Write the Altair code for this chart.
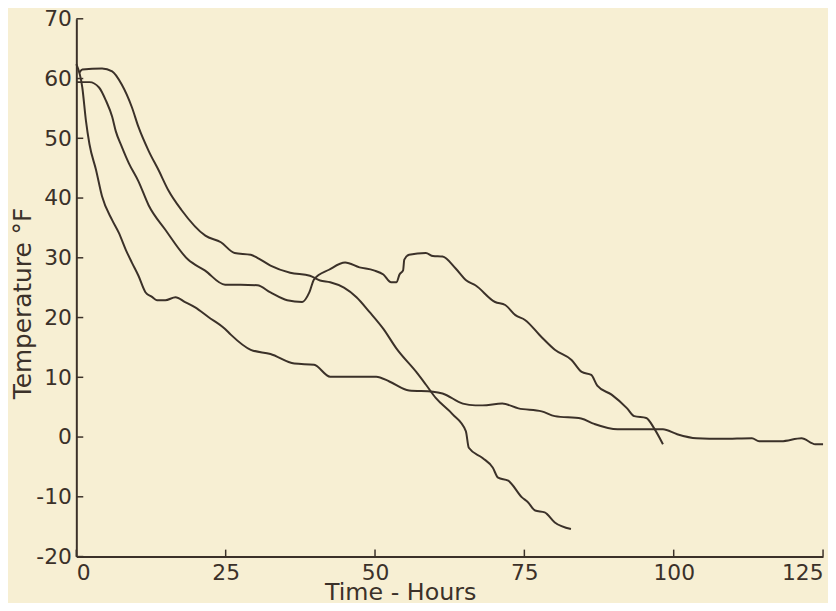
import altair as alt
import pandas as pd

# Curve A (fastest early drop, long tail to 125 h)
A_t = [0, 1.0, 1.6, 2.2, 3.3, 4.3, 6.0, 7.1, 8.3, 9.3, 10.4, 11.6, 12.6, 13.5, 14.9, 16.6, 18.2, 19.9,
       22.1, 24.9, 25.9, 29.2, 32.5, 36.5, 39.8, 42.5, 50.2, 52.4, 55.7, 59.7, 61.3, 64.7, 66.8, 68.0,
       71.3, 74.0, 77.9, 80.1, 84.5, 86.7, 90.6, 93.9, 96.0, 98.2, 100.5, 103.8, 108.1, 113.1, 114.3,
       118.0, 121.4, 123.7, 125.0]
A_T = [62.4, 58.5, 53.0, 49.0, 44.7, 40.3, 36.3, 34.2, 31.3, 29.2, 27.0, 24.2, 23.5, 22.9, 22.9, 23.4, 22.6, 21.7,
       20.1, 18.1, 17.1, 14.6, 13.9, 12.3, 12.1, 10.1, 10.1, 9.3, 7.8, 7.6, 7.3, 5.6, 5.3, 5.3,
       5.6, 4.8, 4.3, 3.5, 3.1, 2.2, 1.3, 1.3, 1.3, 1.3, 0.5, -0.2, -0.3, -0.2, -0.7,
       -0.7, -0.2, -1.2, -1.2]

# Curve B (middle start, two rises, ends near 98 h)
B_t = [0, 2.2, 3.8, 5.0, 6.0, 6.6, 7.6, 8.8, 10.4, 12.1, 14.9, 18.7, 21.5, 24.9, 27.5, 30.3, 32.5, 35.3,
       37.8, 39.0, 39.8, 42.3, 45.0, 47.4, 49.8, 51.4, 52.7, 53.6, 54.1, 54.7, 54.9, 55.7, 58.5, 59.7,
       61.3, 63.5, 65.3, 66.8, 70.1, 71.8, 73.5, 75.1, 77.9, 80.1, 82.9, 84.6, 86.2, 87.2, 89.6, 92.2,
       93.4, 95.4, 96.7, 98.2]
B_T = [59.4, 59.4, 58.5, 56.2, 53.6, 51.2, 48.6, 45.8, 42.8, 38.8, 34.7, 29.7, 27.9, 25.5, 25.5, 25.4, 24.2, 22.9,
       22.6, 24.2, 26.4, 28.0, 29.2, 28.4, 27.9, 27.2, 25.9, 25.9, 27.2, 27.9, 29.7, 30.5, 30.8, 30.3,
       30.2, 28.2, 26.2, 25.4, 22.6, 22.1, 20.4, 19.6, 16.7, 14.6, 12.9, 10.9, 10.4, 8.6, 7.1, 4.8,
       3.5, 3.2, 1.5, -1.2]

# Curve C (highest start, dives to -15 at ~83 h)
C_t = [0.5, 1.0, 4.3, 6.0, 7.6, 9.3, 10.4, 12.1, 13.8, 15.4, 17.6, 21.6, 24.2, 26.5, 29.2, 30.3, 32.5, 35.8,
       39.1, 40.8, 42.5, 44.8, 46.9, 49.1, 51.4, 53.6, 56.9, 58.5, 60.2, 63.0, 65.2, 65.7, 68.0, 69.7,
       70.6, 72.3, 74.6, 75.6, 76.8, 78.4, 80.1, 82.8]
C_T = [61.0, 61.5, 61.7, 61.2, 59.0, 55.2, 51.9, 47.9, 44.6, 41.3, 38.0, 33.7, 32.6, 30.8, 30.5, 30.0, 28.7, 27.5,
       27.0, 26.2, 25.9, 25.0, 23.4, 20.9, 18.1, 14.8, 10.9, 8.8, 6.5, 3.8, 1.0, -1.8, -3.5, -5.1,
       -6.8, -7.3, -10.1, -10.9, -12.3, -12.6, -14.3, -15.4]

x_ticks = [0, 25, 50, 75, 100, 125]
y_ticks = [-20, -10, 0, 10, 20, 30, 40, 50, 60, 70]

rows = []
for name, ts, Ts in (("A", A_t, A_T), ("B", B_t, B_T), ("C", C_t, C_T)):
    for i, (t, T) in enumerate(zip(ts, Ts)):
        rows.append({"curve": name, "i": i, "t": t, "T": T})
df = pd.DataFrame(rows)

W, H = 754, 543
INK = "#3b3129"
FONT = "DejaVu Sans"

xscale = alt.Scale(domain=[0, 125], nice=False, zero=False)
yscale = alt.Scale(domain=[-20, 70], nice=False, zero=False)

lines = alt.Chart(df).mark_line(color=INK, strokeWidth=2, interpolate="monotone").encode(
    x=alt.X("t:Q", scale=xscale, axis=alt.Axis(
        values=x_ticks, title="Time - Hours", grid=False, ticks=False, labelPadding=6,
        labelExpr="datum.value + ''",
        domainColor=INK, domainWidth=2, labelColor=INK, labelFont=FONT, labelFontSize=22,
        titleFont=FONT, titleFontSize=24, titleFontWeight="normal", titleColor=INK,
        titleX=327, titleY=43, titleBaseline="alphabetic", titleAlign="center")),
    y=alt.Y("T:Q", scale=yscale, axis=alt.Axis(
        values=y_ticks, title="Temperature °F", grid=False, ticks=False, labelPadding=5,
        labelExpr="datum.value + ''",
        domainColor=INK, domainWidth=2, labelColor=INK, labelFont=FONT, labelFontSize=22,
        titleFont=FONT, titleFontSize=25, titleFontWeight="normal", titleColor=INK,
        titleX=-54, titleY=287, titleBaseline="middle", titleAlign="center")),
    detail="curve:N",
    order="i:Q",
)

ytick_df = pd.DataFrame({"v": y_ticks})
xtick_df = pd.DataFrame({"v": x_ticks})

yticks = alt.Chart(ytick_df).mark_rule(color=INK, strokeWidth=1.5).encode(
    y=alt.Y("v:Q", scale=yscale), x=alt.value(0), x2=alt.value(7))
xticks = alt.Chart(xtick_df).mark_rule(color=INK, strokeWidth=1.5).encode(
    x=alt.X("v:Q", scale=xscale), y=alt.value(H), y2=alt.value(H - 7))

chart = alt.layer(lines, yticks, xticks).properties(
    width=W, height=H,
    autosize=alt.AutoSizeParams(type="none"),
    padding={"left": 69, "top": 8, "right": 5, "bottom": 44},
    background="#f7efd3",
).configure_view(stroke=None)

chart.save("out.html", embed_options={"renderer": "svg", "actions": False})
